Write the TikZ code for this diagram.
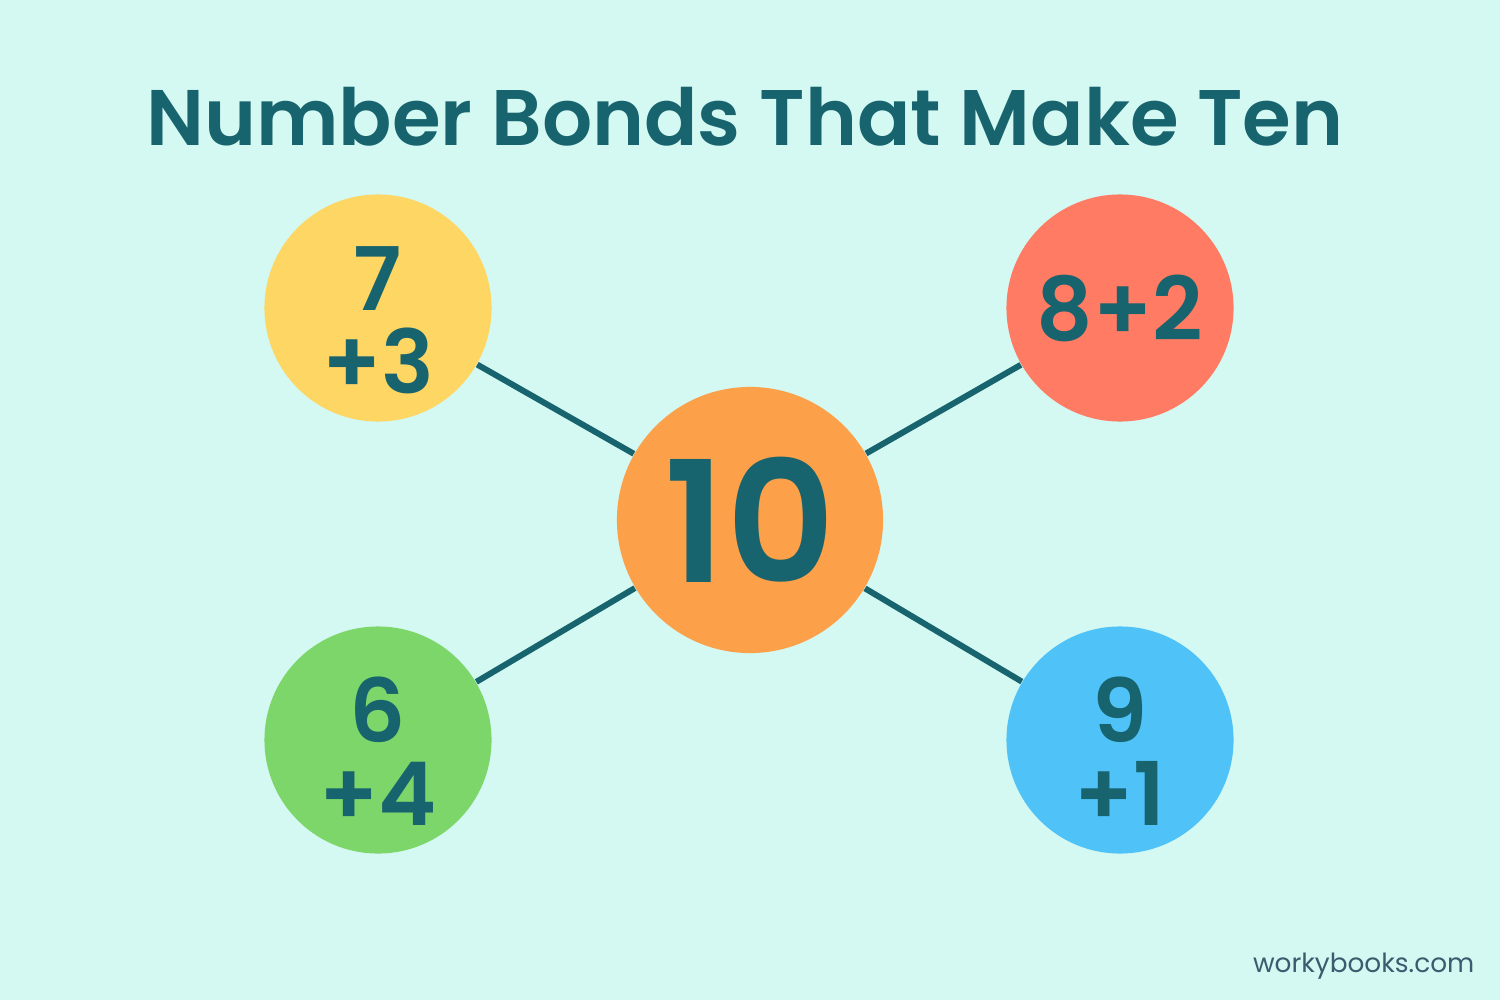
\documentclass[tikz,border=0pt]{standalone}
\usepackage{fontspec}
\setmainfont{Poppins}[BoldFont={Poppins SemiBold}]
\usepackage{tikz}
\usetikzlibrary{positioning}

\definecolor{bgcyan}{HTML}{D4F8F2}
\definecolor{bondteal}{HTML}{17636E}
\definecolor{bondyellow}{HTML}{FDD663}
\definecolor{bondred}{HTML}{FF7B63}
\definecolor{bondorange}{HTML}{FCA04A}
\definecolor{bondgreen}{HTML}{7DD66A}
\definecolor{bondblue}{HTML}{4FC3F7}
\definecolor{markgray}{HTML}{3B5B6E}

\begin{document}
\begin{tikzpicture}[x=0.01cm, y=0.01cm]
\tikzstyle{every node}+=[inner sep=0pt]
\tikzstyle{bond}=[circle, minimum size=2.27cm, text=bondteal, font=\fontsize{25}{23.5}\selectfont\bfseries, align=center]
\tikzstyle{stacked}=[bond, text height=48.5pt]
\tikzstyle{link}=[draw=bondteal, line width=1.7pt]
\fill [bgcyan] (0,0) rectangle (1500,-1000);
\useasboundingbox (0,0) rectangle (1500,-1000);
\node (title) [anchor=base, text=bondteal, font=\fontsize{22.4}{28}\selectfont\bfseries] at (745,-145) {Number Bonds That Make Ten};
\node (ten) [circle, fill=bondorange, minimum size=2.66cm, text=bondteal, font=\fontsize{48}{48}\selectfont\bfseries] at (750,-520) {10};
\node (seven) [stacked, fill=bondyellow] at (378,-308) {7\\+3};
\node (eight) [bond, fill=bondred] at (1120,-308) {8+2};
\node (six) [stacked, fill=bondgreen] at (378,-740) {6\\+4};
\node (nine) [stacked, fill=bondblue] at (1120,-740) {9\\+1};
\draw [link] (ten) -- (seven);
\draw [link] (ten) -- (eight);
\draw [link] (ten) -- (six);
\draw [link] (ten) -- (nine);
\node (mark) [anchor=base east, text=markgray, font=\fontsize{7.5}{9}\selectfont] at (1475,-972) {workybooks.com};
\end{tikzpicture}
\end{document}
